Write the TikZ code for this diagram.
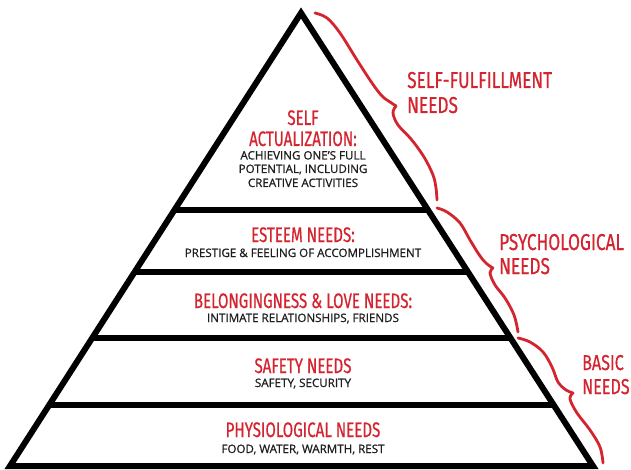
\documentclass[tikz,border=0pt]{standalone}
\usepackage{fontspec}
\usetikzlibrary{calc}
\newfontfamily\handfont[FakeStretch=0.72,FakeBold=0.6]{Fira Sans}
\newfontfamily\sidefont[FakeStretch=0.75,FakeBold=0.5]{Fira Sans}
\newfontfamily\bodyfont[FakeBold=0.9]{Open Sans}
\definecolor{needred}{HTML}{D3242F}
\definecolor{ink}{HTML}{1E1E1E}
\begin{document}
\begin{tikzpicture}[x=1pt,y=-1pt,
  edge/.style={line width=6pt, line join=miter},
  tier/.style={line width=5.5pt, line cap=butt},
  brace/.style={needred, line width=2.8pt, line cap=round, line join=round},
  head/.style={text=needred, font=\handfont\fontsize{21}{22}\selectfont, inner sep=0pt, anchor=base},
  sub/.style={text=ink, font=\bodyfont\fontsize{11.6}{14}\selectfont, inner sep=0pt, anchor=base},
  side/.style={text=needred, font=\sidefont\fontsize{23}{25}\selectfont, inner sep=0pt, anchor=base west},
  sidesmall/.style={side, font=\sidefont\fontsize{21.5}{24}\selectfont}
]
\useasboundingbox (0,0) rectangle (631,470);
\coordinate (apex) at (301,13);
\coordinate (bl) at (10,466);
\coordinate (br) at (593,466);
\draw[edge] (bl) -- (apex) -- (br) -- cycle;
% tiers
\coordinate (t1l) at ($(apex)!0.435!(bl)$);  \coordinate (t1r) at ($(apex)!0.435!(br)$);
\coordinate (t2l) at ($(apex)!0.5717!(bl)$); \coordinate (t2r) at ($(apex)!0.5717!(br)$);
\coordinate (t3l) at ($(apex)!0.7174!(bl)$); \coordinate (t3r) at ($(apex)!0.7174!(br)$);
\coordinate (t4l) at ($(apex)!0.8653!(bl)$); \coordinate (t4r) at ($(apex)!0.8653!(br)$);
\draw[tier] (t1l) -- (t1r);
\draw[tier] (t2l) -- (t2r);
\draw[tier] (t3l) -- (t3r);
\draw[tier] (t4l) -- (t4r);
% braces
\draw[brace] plot[smooth, tension=0.6] coordinates {(315,13) (327,18) (340,33) (357,60) (372,83) (382,96) (390,102) (396,106)};
\draw[brace] plot[smooth, tension=0.6] coordinates {(396,106) (393,113) (398,125) (411,139) (424,157) (433,175) (436,188) (437,200)};
\draw[brace] plot[smooth, tension=0.6] coordinates {(437,208) (447,212) (460,223) (470,240) (480,256) (487,264) (493,268)};
\draw[brace] plot[smooth, tension=0.6] coordinates {(493,268) (490,273) (495,285) (505,298) (514,315) (518,332)};
\draw[brace] plot[smooth, tension=0.6] coordinates {(518,338) (530,342) (543,352) (552,367) (558,382) (566,390) (573,393)};
\draw[brace] plot[smooth, tension=0.6] coordinates {(573,393) (570,399) (577,413) (590,430) (600,447) (603,463)};
% side labels
\node[side] (sf1) at (407,88) {SELF-FULFILLMENT};
\node[side] (sf2) at (407,113) {NEEDS};
\node[side] (ps1) at (499,250) {PSYCHOLOGICAL};
\node[side] (ps2) at (499,274) {NEEDS};
\node[sidesmall] (ba1) at (582,370) {BASIC};
\node[sidesmall] (ba2) at (582,394) {NEEDS};
% tier texts
\node[head] (sa1) at (303,125) {SELF};
\node[head] (sa2) at (303,146) {ACTUALIZATION:};
\node[sub] (sa3) at (303,159.5) {ACHIEVING ONE’S FULL};
\node[sub] (sa4) at (303,173) {POTENTIAL, INCLUDING};
\node[sub] (sa5) at (303,187) {CREATIVE ACTIVITIES};
\node[head] (es1) at (303,242) {ESTEEM NEEDS:};
\node[sub] (es2) at (303,257) {PRESTIGE \& FEELING OF ACCOMPLISHMENT};
\node[head] (bl1) at (303,308) {BELONGINGNESS \& LOVE NEEDS:};
\node[sub] (bl2) at (303,322) {INTIMATE RELATIONSHIPS, FRIENDS};
\node[head] (sf3) at (303,373) {SAFETY NEEDS};
\node[sub] (sf4) at (303,387) {SAFETY, SECURITY};
\node[head] (ph1) at (303,437) {PHYSIOLOGICAL NEEDS};
\node[sub] (ph2) at (303,453) {FOOD, WATER, WARMTH, REST};
\end{tikzpicture}
\end{document}
